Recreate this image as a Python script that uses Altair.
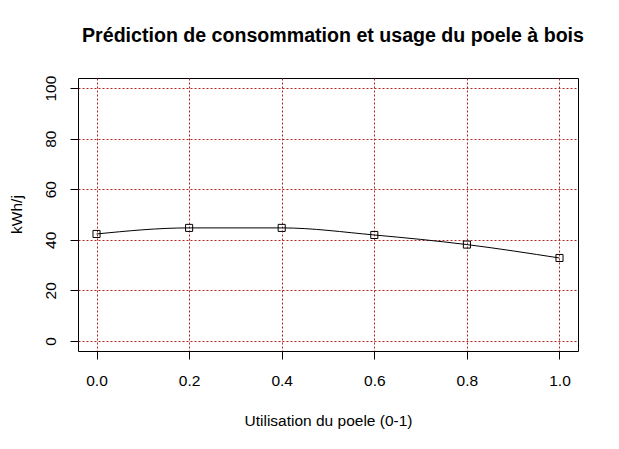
import altair as alt
import pandas as pd

# usage du poele (0-1) et consommation predite (kWh/j)
usage = [0.0, 0.2, 0.4, 0.6, 0.8, 1.0]
conso = [42.3, 44.7, 44.7, 41.9, 38.1, 32.8]
x_ticks = [0.0, 0.2, 0.4, 0.6, 0.8, 1.0]
y_ticks = [0, 20, 40, 60, 80, 100]

data = pd.DataFrame({'usage': usage, 'conso': conso})

FONT = 'Liberation Sans'
GRID = '#b22222'

x_enc = alt.X('usage:Q', title='Utilisation du poele (0-1)',
              scale=alt.Scale(domain=[-0.04, 1.04], nice=False, zero=False),
              axis=alt.Axis(values=x_ticks, format='.1f', grid=True,
                            titleY=69, titleBaseline='middle',
                            labelPadding=14))
y_enc = alt.Y('conso:Q', title='kWh/j',
              scale=alt.Scale(domain=[-4, 104], nice=False, zero=False),
              axis=alt.Axis(values=y_ticks, grid=True, labelAngle=-90,
                            labelAlign='center', labelBaseline='bottom',
                            labelPadding=12, titleAngle=-90,
                            titleX=-62, titleY=136, titleAlign='center',
                            titleBaseline='middle'))

line = alt.Chart(data).mark_line(color='black', strokeWidth=1,
                                 interpolate='monotone').encode(x=x_enc, y=y_enc)

points = alt.Chart(data).mark_point(shape='square', filled=False, size=50,
                                    color='black', strokeWidth=1,
                                    opacity=1).encode(x='usage:Q', y='conso:Q')

chart = (line + points).properties(
    width=500,
    height=273,
    background='white',
    autosize=alt.AutoSizeParams(type='none'),
    padding={'left': 70, 'top': 70, 'right': 33, 'bottom': 90},
    title=alt.TitleParams('Prédiction de consommation et usage du poele à bois',
                          anchor='middle', offset=29, dx=5)
).configure_view(
    stroke='black',
    strokeWidth=1
).configure_title(
    font=FONT,
    fontSize=19.6,
    fontWeight='bold',
    color='black'
).configure_axis(
    domain=False,
    labelFont=FONT,
    titleFont=FONT,
    labelFontSize=15.5,
    titleFontSize=15.5,
    titleFontWeight='normal',
    labelColor='black',
    titleColor='black',
    tickColor='black',
    tickSize=8,
    tickWidth=1,
    gridColor=GRID,
    gridDash=[2, 2],
    gridWidth=1,
    gridOpacity=1
)

chart.save("out.html", embed_options={"renderer": "svg", "actions": False})
